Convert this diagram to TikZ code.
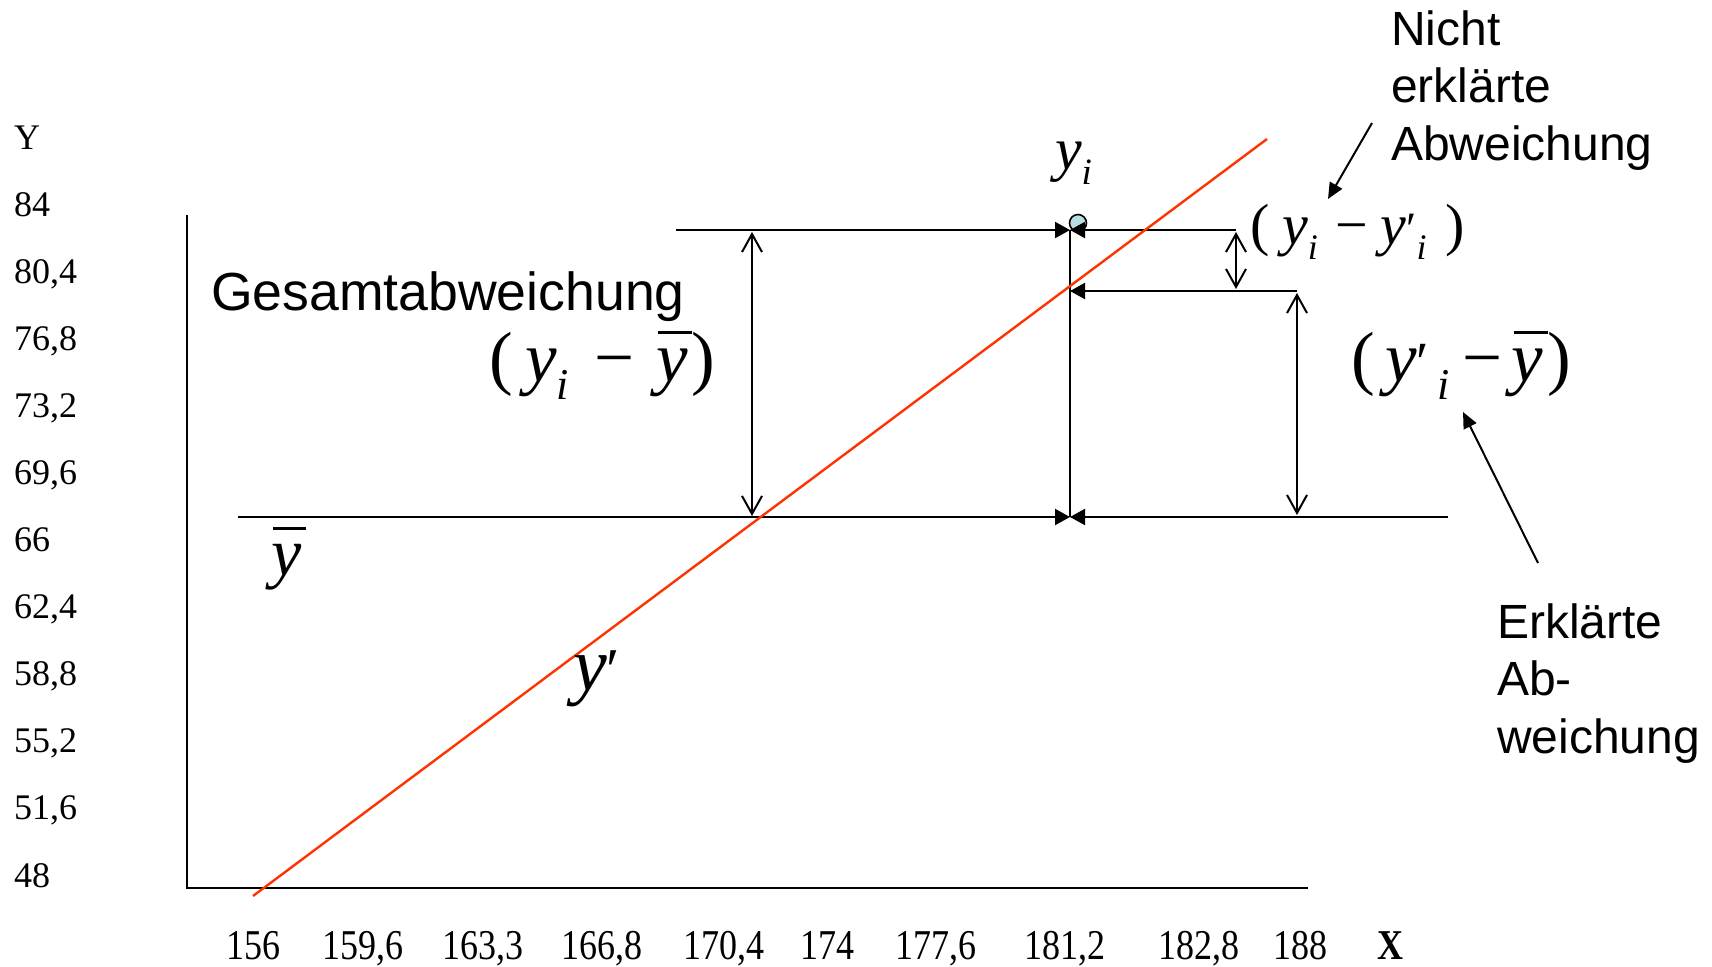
\documentclass[tikz,border=0pt]{standalone}
\usepackage{fontspec}
\usepackage{graphicx}
\setmainfont{Liberation Serif}
\newfontfamily\arialf{Liberation Sans}
\usetikzlibrary{arrows.meta}
\definecolor{regred}{RGB}{255,51,0}
\definecolor{ptblue}{RGB}{185,222,226}
\newcommand\vy{\textit{y}}
\newcommand\lowi{\raisebox{-0.26em}{\scalebox{0.62}{\itshape i}}}
\newcommand\myprime{\scalebox{0.8}{′}}
\newcommand\ybar{\rlap{\hspace{0.03em}\rule[0.66em]{0.48em}{0.04em}}\textit{y}}
\tikzset{
  lbl/.style={inner sep=0pt, outer sep=0pt},
  ticky/.style={lbl, anchor=base west, font=\fontsize{18}{21.6}\selectfont},
  tickx/.style={lbl, anchor=base, font=\fontsize{18}{21.6}\selectfont},
  axisline/.style={line width=1.2pt, line join=miter},
  guide/.style={line width=1.1pt},
  solidtip/.style={guide, -{Triangle[length=7.5pt,width=8pt]}},
  dblopen/.style={line width=1pt, {Straight Barb[length=9pt,width=10pt]}-{Straight Barb[length=9pt,width=10pt]}},
  regline/.style={line width=1.2pt, draw=regred},
  leader/.style={line width=1pt, -{Triangle[length=8pt,width=7pt]}},
  sanslbl/.style={lbl, anchor=base west, align=left, font=\arialf\fontsize{24}{28.75}\selectfont},
  mathlbl/.style={lbl, anchor=base west},
}
\begin{document}
\begin{tikzpicture}[x=0.5pt,y=-0.5pt]
\path[use as bounding box] (0,0) rectangle (1712,966);
% axes
\coordinate (ytop) at (187,215);
\coordinate (O) at (187,888);
\coordinate (xend) at (1308,888);
\draw[axisline] (ytop) -- (O) -- (xend);
% y tick labels
\node[ticky] (Ylab) at (14,149) {Y};
\foreach \v [count=\k from 0] in {84,{80,4},{76,8},{73,2},{69,6},66,{62,4},{58,8},{55,2},{51,6},48}
  \node[ticky] (ty\k) at (14,216+67.1*\k) {\v};
% x tick labels
\foreach \v/\x [count=\k] in {156/253,{159,6}/363,{163,3}/483,{166,8}/602,{170,4}/724,174/827,{177,6}/936,{181,2}/1065,{182,8}/1199,188/1300}
  \node[tickx] (tx\k) at (\x,959) {\scalebox{1}[1.18]{\v}};
\node[tickx] (Xlab) at (1390,959) {\scalebox{1}[1.18]{\bfseries X}};
% observed point
\node[circle, draw, line width=0.8pt, fill=ptblue, minimum size=8.5pt, inner sep=0pt] (yi) at (1078,223) {};
% key coordinates
\coordinate (Pyi) at (1070,230);
\coordinate (Pyp) at (1070,291);
\coordinate (Pyb) at (1070,517);
\coordinate (topL) at (676,230);
\coordinate (topR) at (1236,230);
\coordinate (midR) at (1297,291);
\coordinate (ybL) at (238,517);
\coordinate (ybR) at (1448,517);
% guide lines with arrows
\draw[solidtip] (topL) -- (Pyi);
\draw[solidtip] (topR) -- (Pyi);
\draw[guide] (Pyi) -- (Pyb);
\draw[solidtip] (ybL) -- (Pyb);
\draw[solidtip] (ybR) -- (Pyb);
\draw[solidtip] (midR) -- (Pyp);
% double arrows
\coordinate (gA) at (752,232);
\coordinate (gB) at (752,516);
\draw[dblopen] (gA) -- (gB);
\coordinate (nA) at (1236,232);
\coordinate (nB) at (1236,289);
\draw[dblopen] (nA) -- (nB);
\coordinate (eA) at (1297,293);
\coordinate (eB) at (1297,515);
\draw[dblopen] (eA) -- (eB);
% regression line
\coordinate (rA) at (253,896);
\coordinate (rB) at (1267,139);
\draw[regline] (rA) -- (rB);
% labels
\node[lbl, anchor=base west, font=\arialf\fontsize{26.8}{31}\selectfont] (gesamt) at (211,310) {Gesamtabweichung};
\node[mathlbl, font=\fontsize{35.5}{40}\selectfont] (f1) at (489,381) {(\hspace{0.18em}\vy\lowi\hspace{0.36em}−\hspace{0.3em}\ybar\hspace{0.05em})};
\node[mathlbl, font=\fontsize{35.5}{40}\selectfont] (f2) at (1351,381) {(\hspace{0.15em}\vy\myprime\hspace{0.12em}\lowi\hspace{0.18em}−\hspace{0.12em}\ybar\hspace{0.06em})};
\node[mathlbl, font=\fontsize{29}{34}\selectfont] (f3) at (1250,244) {(\hspace{0.22em}\vy\lowi\hspace{0.3em}−\hspace{0.22em}\vy\myprime\lowi\hspace{0.32em})};
\node[mathlbl, font=\fontsize{30}{36}\selectfont] (yilab) at (1055,169) {\vy\lowi};
\node[mathlbl, font=\fontsize{34}{40}\selectfont] (ybarlab) at (271,575) {\ybar};
\node[mathlbl, font=\fontsize{38}{44}\selectfont] (yplab) at (573,690) {\vy\myprime};
\node[sanslbl] (nicht) at (1391,160) {Nicht\\erklärte\\Abweichung};
\node[sanslbl] (erkl) at (1497,753) {Erklärte\\Ab-\\weichung};
% leader arrows
\coordinate (l1a) at (1372,123);
\coordinate (l1b) at (1328,199);
\draw[leader] (l1a) -- (l1b);
\coordinate (l2a) at (1538,563);
\coordinate (l2b) at (1463,412);
\draw[leader] (l2a) -- (l2b);
\end{tikzpicture}
\end{document}
